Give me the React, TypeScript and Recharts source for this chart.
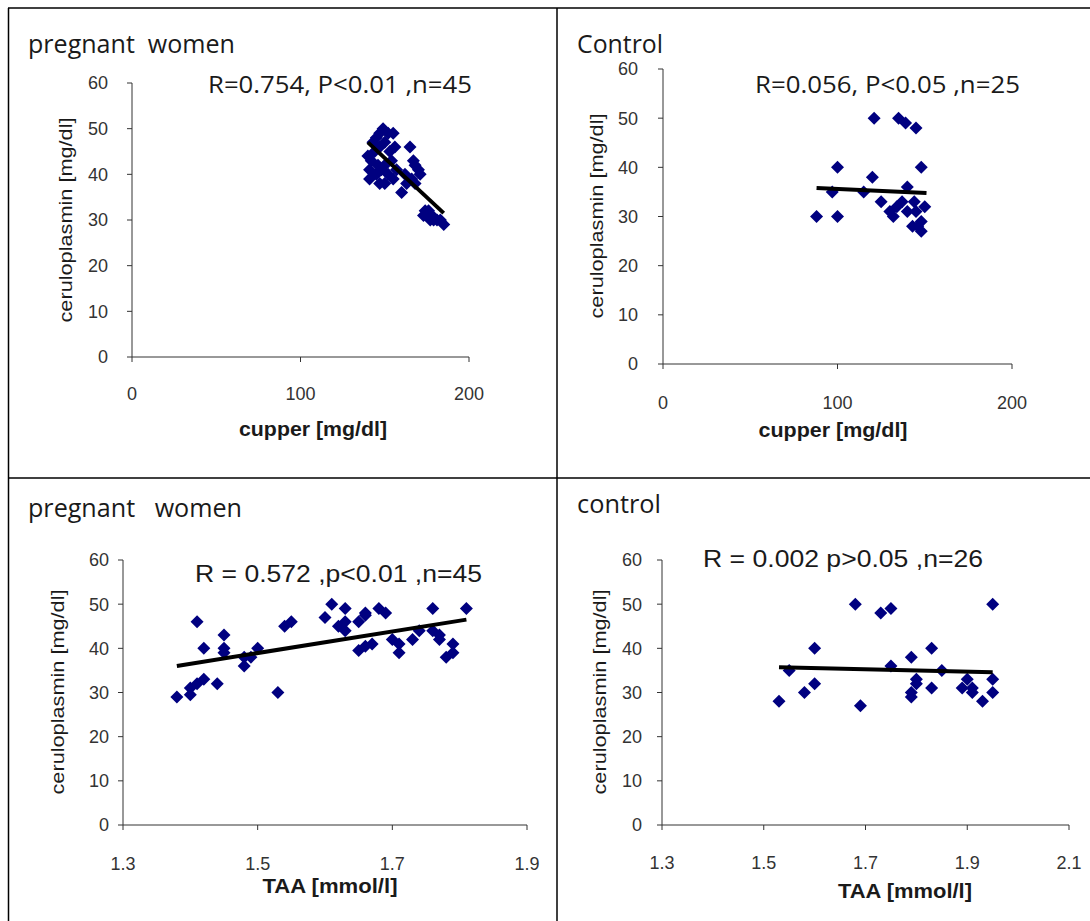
import { ScatterChart, Scatter, XAxis, YAxis } from "recharts";

const W = 1090;
const H = 921;

// top left: pregnant women, cupper vs ceruloplasmin
const pwCupper = [149, 147, 152, 145, 155, 143, 150, 156, 147, 140, 144, 153, 165, 142, 146, 150, 154, 167, 168, 170, 171, 141, 145, 148, 152, 157, 162, 166, 141, 147, 150, 155, 160, 163, 168, 174, 175, 176, 178, 177, 179, 181, 185, 173, 183];
const pwCeruloCu = [50, 49, 49, 48, 49, 47, 47, 46, 46, 44, 45, 45, 46, 43, 42, 42, 43, 43, 42, 41, 40, 41, 40, 41, 40, 41, 40, 39, 39, 38, 38, 39, 36, 38, 38, 32, 31, 32, 31, 30, 30, 30, 29, 31, 30];
const pwCuTrend = [{ x: 140, y: 47 }, { x: 185, y: 31.5 }];

// top right: control, cupper vs ceruloplasmin
const ctCupper = [121, 135, 139, 145, 100, 148, 120, 97, 115, 140, 125, 88, 100, 130, 137, 132, 144, 150, 145, 143, 148, 148, 146, 134, 140];
const ctCeruloCu = [50, 50, 49, 48, 40, 40, 38, 35, 35, 36, 33, 30, 30, 31, 33, 30, 33, 32, 31, 28, 29, 27, 28, 32, 31];
const ctCuTrend = [{ x: 88, y: 35.8 }, { x: 151, y: 34.8 }];

// bottom left: pregnant women, TAA vs ceruloplasmin
const pwTaa = [1.38, 1.4, 1.4, 1.41, 1.42, 1.44, 1.41, 1.42, 1.45, 1.45, 1.45, 1.48, 1.48, 1.49, 1.5, 1.53, 1.54, 1.55, 1.6, 1.61, 1.62, 1.63, 1.63, 1.63, 1.65, 1.66, 1.66, 1.65, 1.66, 1.67, 1.68, 1.69, 1.7, 1.71, 1.71, 1.73, 1.74, 1.76, 1.76, 1.77, 1.78, 1.79, 1.79, 1.81, 1.77];
const pwCeruloTaa = [29, 29.5, 31, 32, 33, 32, 46, 40, 43, 40, 39, 36, 38, 38, 40, 30, 45, 46, 47, 50, 45, 49, 46, 44, 46, 47.5, 48, 39.5, 40.5, 41, 49, 48, 42, 41, 39, 42, 44, 44, 49, 42, 38, 39, 41, 49, 43];
const pwTaaTrend = [{ x: 1.38, y: 36 }, { x: 1.81, y: 46.5 }];

// bottom right: control, TAA vs ceruloplasmin
const ctTaa = [1.53, 1.55, 1.58, 1.6, 1.6, 1.68, 1.69, 1.73, 1.75, 1.75, 1.79, 1.79, 1.79, 1.8, 1.8, 1.83, 1.83, 1.85, 1.89, 1.9, 1.91, 1.91, 1.93, 1.95, 1.95, 1.95];
const ctCeruloTaa = [28, 35, 30, 40, 32, 50, 27, 48, 49, 36, 38, 29, 30, 33, 32, 40, 31, 35, 31, 33, 31, 30, 28, 50, 33, 30];
const ctTaaTrend = [{ x: 1.53, y: 35.7 }, { x: 1.95, y: 34.6 }];

const yTicks = [0, 10, 20, 30, 40, 50, 60];
const cuTicks = [0, 100, 200];
const taaTicksPw = [1.3, 1.5, 1.7, 1.9];
const taaTicksCt = [1.3, 1.5, 1.7, 1.9, 2.1];

const zip = (xs: number[], ys: number[]) => xs.map((x, i) => ({ x, y: ys[i] }));

function Diamond(props: any) {
  const { cx, cy } = props;
  if (cx == null || cy == null) return null;
  const r = 6.5;
  return <polygon points={`${cx},${cy - r} ${cx + r},${cy} ${cx},${cy + r} ${cx - r},${cy}`} fill="#000080" />;
}

const NoDot = () => <g />;

const tickStyle = { fill: "#333", fontSize: 18, fontFamily: "'Liberation Sans', Arial, sans-serif" };

function Panel({ plot, xDomain, xTicks, data, trend, yGap, xGap, fmt }: any) {
  const margin = { left: plot.left - 60, top: plot.top, right: W - plot.right, bottom: H - plot.bottom - 30 };
  return (
    <div style={{ position: "absolute", left: 0, top: 0 }}>
      <ScatterChart width={W} height={H} margin={margin}>
        <XAxis type="number" dataKey="x" domain={xDomain} ticks={xTicks} height={30} tickSize={5} tickMargin={xGap}
          stroke="#333" tick={tickStyle} tickFormatter={fmt} />
        <YAxis type="number" dataKey="y" domain={[0, 60]} ticks={yTicks} width={60} tickSize={5} tickMargin={yGap}
          stroke="#333" tick={tickStyle} />
        <Scatter data={data} shape={<Diamond />} isAnimationActive={false} />
        {/* linear trend line, drawn on top of the points */}
        <Scatter data={trend} shape={<NoDot />} line={{ stroke: "#000", strokeWidth: 4 }} isAnimationActive={false} />
      </ScatterChart>
    </div>
  );
}

const openSans = "'Open Sans', 'Noto Sans', sans-serif";
const arial = "'Liberation Sans', Arial, sans-serif";

function YLabel({ x, y }: { x: number; y: number }) {
  return (
    <text x={x} y={y} transform={`rotate(-90 ${x} ${y})`} textAnchor="middle" dominantBaseline="central"
      fontFamily={arial} fontSize={18} fill="#1a1a1a" textLength={205} lengthAdjust="spacingAndGlyphs">
      ceruloplasmin [mg/dl]
    </text>
  );
}

export default function App() {
  const fix1 = (v: number) => v.toFixed(1);
  const pre = { whiteSpace: "pre" as const };
  return (
    <div style={{ position: "absolute", left: 0, top: 0, width: W, height: H, overflow: "hidden", background: "#fff" }}>
      <Panel plot={{ left: 132, right: 469, top: 83, bottom: 357 }} xDomain={[0, 200]} xTicks={cuTicks}
        data={zip(pwCupper, pwCeruloCu)} trend={pwCuTrend} yGap={19} xGap={25} />
      <Panel plot={{ left: 663, right: 1012, top: 69, bottom: 364 }} xDomain={[0, 200]} xTicks={cuTicks}
        data={zip(ctCupper, ctCeruloCu)} trend={ctCuTrend} yGap={20} xGap={27} />
      <Panel plot={{ left: 123, right: 527, top: 560, bottom: 825 }} xDomain={[1.3, 1.9]} xTicks={taaTicksPw}
        data={zip(pwTaa, pwCeruloTaa)} trend={pwTaaTrend} yGap={9} xGap={27} fmt={fix1} />
      <Panel plot={{ left: 662, right: 1069, top: 560, bottom: 825 }} xDomain={[1.3, 2.1]} xTicks={taaTicksCt}
        data={zip(ctTaa, ctCeruloTaa)} trend={ctTaaTrend} yGap={15} xGap={26} fmt={fix1} />

      <svg width={W} height={H} style={{ position: "absolute", left: 0, top: 0, pointerEvents: "none" }}>
        <line x1={8} y1={8} x2={W} y2={8} stroke="#000" strokeWidth={1.5} />
        <line x1={8.5} y1={8} x2={8.5} y2={H} stroke="#000" strokeWidth={1.5} />
        <line x1={557} y1={8} x2={557} y2={H} stroke="#000" strokeWidth={1.5} />
        <line x1={8} y1={478} x2={W} y2={478} stroke="#000" strokeWidth={1.5} />

        <g fontFamily={openSans} fontSize={25} fill="#1a1a1a">
          <text x={28} y={53} style={pre} xmlSpace="preserve" textLength={207} lengthAdjust="spacingAndGlyphs">{"pregnant  women"}</text>
          <text x={577} y={53} textLength={86} lengthAdjust="spacingAndGlyphs">Control</text>
          <text x={28} y={517} style={pre} xmlSpace="preserve" textLength={214} lengthAdjust="spacingAndGlyphs">{"pregnant   women"}</text>
          <text x={577} y={513} textLength={84} lengthAdjust="spacingAndGlyphs">control</text>
          <text x={208} y={93} fontSize={24} textLength={264} lengthAdjust="spacingAndGlyphs">R=0.754, P&lt;0.01 ,n=45</text>
          <text x={755} y={93} fontSize={24} textLength={265} lengthAdjust="spacingAndGlyphs">R=0.056, P&lt;0.05 ,n=25</text>
        </g>
        <g fontFamily={arial} fontSize={24} fill="#1a1a1a">
          <text x={195} y={582} textLength={287} lengthAdjust="spacingAndGlyphs">R = 0.572 ,p&lt;0.01 ,n=45</text>
          <text x={703} y={567} textLength={280} lengthAdjust="spacingAndGlyphs">R = 0.002 p&gt;0.05 ,n=26</text>
        </g>
        <g fontFamily={arial} fontSize={20} fontWeight="bold" fill="#1a1a1a" textAnchor="middle">
          <text x={313} y={436} textLength={148} lengthAdjust="spacingAndGlyphs">cupper [mg/dl]</text>
          <text x={833} y={437} textLength={149} lengthAdjust="spacingAndGlyphs">cupper [mg/dl]</text>
          <text x={330} y={893} textLength={135} lengthAdjust="spacingAndGlyphs">TAA [mmol/l]</text>
          <text x={905} y={898} textLength={134} lengthAdjust="spacingAndGlyphs">TAA [mmol/l]</text>
        </g>
        <YLabel x={66} y={220} />
        <YLabel x={597} y={216} />
        <YLabel x={58} y={692} />
        <YLabel x={600} y={692} />
      </svg>
    </div>
  );
}
